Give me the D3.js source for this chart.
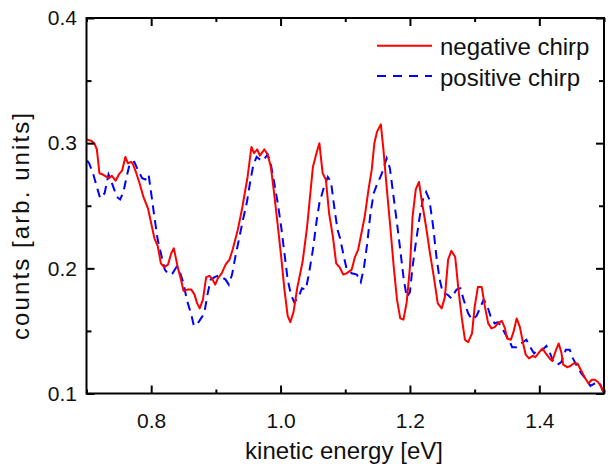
<!DOCTYPE html>
<html>
<head>
<meta charset="utf-8">
<script src="https://cdn.jsdelivr.net/npm/d3@7"></script>
<style>
  html, body { margin: 0; padding: 0; background: #fff; }
  svg { display: block; font-family: "Liberation Sans", Arial, Helvetica, sans-serif; }
</style>
</head>
<body>
<svg id="chart" width="610" height="464"></svg>
<script>
// ---- data ----
const negEnergy = [0.700,0.707,0.712,0.716,0.720,0.725,0.731,0.735,0.739,0.745,0.750,0.755,0.760,0.764,0.769,0.772,0.777,0.782,0.788,0.795,
  0.800,0.805,0.810,0.815,0.820,0.826,0.831,0.835,0.841,0.846,0.850,0.856,0.862,0.867,0.871,0.875,0.880,0.885,0.890,0.895,
  0.899,0.903,0.909,0.915,0.921,0.926,0.934,0.941,0.949,0.955,0.959,0.964,0.968,0.975,0.980,0.985,0.990,0.996,1.001,1.006,
  1.011,1.015,1.020,1.026,1.034,1.041,1.050,1.056,1.060,1.065,1.070,1.075,1.081,1.086,1.091,1.097,1.102,1.110,1.115,1.120,
  1.125,1.130,1.136,1.141,1.145,1.149,1.155,1.159,1.164,1.170,1.175,1.180,1.185,1.190,1.195,1.200,1.204,1.209,1.214,1.218,
  1.225,1.231,1.237,1.243,1.249,1.254,1.259,1.264,1.270,1.275,1.280,1.285,1.290,1.296,1.300,1.305,1.311,1.316,1.321,1.326,
  1.331,1.336,1.342,1.347,1.350,1.356,1.360,1.365,1.370,1.375,1.379,1.384,1.390,1.394,1.400,1.405,1.410,1.416,1.420,1.426,
  1.430,1.434,1.437,1.443,1.448,1.453,1.459,1.464,1.470,1.476,1.481,1.486,1.491,1.496,1.500];
const negCounts = [0.303,0.302,0.300,0.295,0.276,0.275,0.273,0.272,0.274,0.270,0.275,0.278,0.289,0.284,0.285,0.283,0.276,0.268,0.257,0.248,
  0.236,0.224,0.218,0.204,0.201,0.203,0.212,0.216,0.201,0.191,0.182,0.183,0.183,0.179,0.172,0.168,0.175,0.193,0.194,0.191,
  0.187,0.192,0.196,0.203,0.207,0.215,0.231,0.249,0.273,0.297,0.292,0.295,0.290,0.295,0.291,0.281,0.260,0.233,0.209,0.183,
  0.162,0.157,0.165,0.185,0.205,0.233,0.281,0.293,0.300,0.276,0.271,0.244,0.225,0.204,0.201,0.195,0.196,0.199,0.209,0.215,
  0.228,0.241,0.263,0.279,0.300,0.309,0.315,0.295,0.265,0.231,0.201,0.175,0.160,0.159,0.173,0.201,0.241,0.263,0.269,0.255,
  0.233,0.212,0.193,0.172,0.168,0.177,0.207,0.214,0.209,0.183,0.161,0.143,0.141,0.148,0.169,0.185,0.185,0.169,0.156,0.152,
  0.153,0.156,0.158,0.152,0.144,0.143,0.149,0.160,0.153,0.140,0.131,0.128,0.130,0.129,0.133,0.136,0.132,0.128,0.126,0.135,
  0.140,0.133,0.123,0.121,0.122,0.124,0.124,0.119,0.113,0.108,0.111,0.111,0.109,0.105,0.1006];

const posEnergy = [0.701,0.704,0.710,0.715,0.721,0.728,0.734,0.740,0.747,0.752,0.757,0.762,0.767,0.774,0.779,0.786,0.791,0.796,0.800,0.805,
  0.810,0.815,0.821,0.827,0.833,0.839,0.845,0.850,0.855,0.862,0.866,0.872,0.877,0.882,0.887,0.892,0.898,0.903,0.909,0.915,
  0.920,0.925,0.930,0.936,0.942,0.948,0.953,0.958,0.963,0.968,0.973,0.980,0.985,0.990,0.996,1.001,1.006,1.011,1.016,1.021,
  1.027,1.033,1.039,1.044,1.050,1.056,1.060,1.066,1.073,1.078,1.083,1.088,1.092,1.098,1.102,1.110,1.118,1.124,1.129,1.134,
  1.139,1.144,1.149,1.156,1.164,1.169,1.174,1.180,1.185,1.190,1.195,1.200,1.204,1.209,1.215,1.220,1.225,1.230,1.236,1.241,
  1.246,1.251,1.258,1.264,1.272,1.278,1.283,1.290,1.296,1.303,1.309,1.314,1.319,1.325,1.331,1.336,1.342,1.347,1.353,1.358,
  1.365,1.372,1.380,1.386,1.392,1.398,1.405,1.411,1.416,1.422,1.428,1.434,1.441,1.447,1.452,1.459,1.465,1.473,1.479,1.486,
  1.493,1.499];
const posCounts = [0.286,0.284,0.276,0.267,0.256,0.260,0.275,0.267,0.257,0.255,0.261,0.273,0.284,0.285,0.279,0.272,0.271,0.275,0.260,0.241,
  0.223,0.212,0.199,0.195,0.196,0.201,0.196,0.188,0.175,0.163,0.154,0.156,0.160,0.164,0.179,0.191,0.193,0.194,0.193,0.191,
  0.187,0.195,0.209,0.224,0.239,0.253,0.269,0.283,0.289,0.287,0.286,0.291,0.283,0.269,0.251,0.233,0.212,0.191,0.179,0.173,
  0.176,0.184,0.183,0.196,0.215,0.239,0.252,0.263,0.273,0.269,0.249,0.231,0.224,0.209,0.200,0.196,0.195,0.189,0.201,0.220,
  0.244,0.260,0.267,0.275,0.288,0.280,0.260,0.236,0.215,0.193,0.177,0.181,0.201,0.220,0.241,0.255,0.261,0.255,0.233,0.209,
  0.191,0.180,0.179,0.176,0.183,0.184,0.175,0.164,0.159,0.162,0.169,0.175,0.171,0.161,0.156,0.157,0.153,0.148,0.143,0.137,
  0.137,0.140,0.143,0.137,0.132,0.135,0.135,0.138,0.133,0.125,0.123,0.125,0.135,0.135,0.128,0.121,0.116,0.111,0.106,0.108,
  0.109,0.101];

const xMajorTicks = [0.8, 1.0, 1.2, 1.4];
const xMinorTicks = [0.7, 0.9, 1.1, 1.3, 1.5];
const yMajorTicks = [0.1, 0.2, 0.3, 0.4];
const yMinorTicks = [0.15, 0.25, 0.35];
const seriesNames = ["negative chirp", "positive chirp"];
const xTitle = "kinetic energy [eV]";
const yTitle = "counts [arb. units]";

// ---- layout ----
const svg = d3.select("#chart");
const L = 86.5, R = 604, T = 18, B = 393.5;
const x = d3.scaleLinear().domain([0.7, 1.5]).range([L, R]);
const y = d3.scaleLinear().domain([0.1, 0.4]).range([B, T]);

svg.append("defs").append("clipPath").attr("id", "clip")
  .append("rect").attr("x", L).attr("y", T).attr("width", R - L).attr("height", B - T);

const line = d3.line().x(d => x(d[0])).y(d => y(d[1]));
const negData = negEnergy.map((e, i) => [e, negCounts[i]]);
const posData = posEnergy.map((e, i) => [e, posCounts[i]]);

const plot = svg.append("g").attr("clip-path", "url(#clip)");
plot.append("path").datum(posData).attr("d", line)
  .attr("fill", "none").attr("stroke", "#0000ff").attr("stroke-width", 2)
  .attr("stroke-dasharray", "9,6");
plot.append("path").datum(negData).attr("d", line)
  .attr("fill", "none").attr("stroke", "#ff0000").attr("stroke-width", 2)
  .attr("stroke-linejoin", "round");

// ---- axes ----
function styleAxis(g) {
  g.select(".domain").remove();
  g.selectAll(".tick line").attr("stroke", "#000").attr("stroke-width", 2);
  g.selectAll("text").attr("fill", "#111").style("font-size", "21px")
    .style("font-family", '"Liberation Sans", Arial, sans-serif');
}
const fmt = d3.format(".1f");
svg.append("g").attr("transform", `translate(0,${B})`)
  .call(d3.axisBottom(x).tickValues(xMajorTicks).tickFormat(fmt).tickSizeInner(-8).tickSizeOuter(0).tickPadding(19.5))
  .call(styleAxis);
svg.append("g").attr("transform", `translate(0,${B})`)
  .call(d3.axisBottom(x).tickValues(xMinorTicks).tickFormat("").tickSizeInner(-4).tickSizeOuter(0))
  .call(styleAxis);
svg.append("g").attr("transform", `translate(0,${T})`)
  .call(d3.axisTop(x).tickValues(xMajorTicks).tickFormat("").tickSizeInner(-8).tickSizeOuter(0))
  .call(styleAxis);
svg.append("g").attr("transform", `translate(0,${T})`)
  .call(d3.axisTop(x).tickValues(xMinorTicks).tickFormat("").tickSizeInner(-4).tickSizeOuter(0))
  .call(styleAxis);
svg.append("g").attr("transform", `translate(${L},0)`)
  .call(d3.axisLeft(y).tickValues(yMajorTicks).tickFormat(fmt).tickSizeInner(-8).tickSizeOuter(0).tickPadding(9.5))
  .call(styleAxis);
svg.append("g").attr("transform", `translate(${L},0)`)
  .call(d3.axisLeft(y).tickValues(yMinorTicks).tickFormat("").tickSizeInner(-5).tickSizeOuter(0))
  .call(styleAxis);
svg.append("g").attr("transform", `translate(${R},0)`)
  .call(d3.axisRight(y).tickValues(yMajorTicks).tickFormat("").tickSizeInner(-8).tickSizeOuter(0))
  .call(styleAxis);
svg.append("g").attr("transform", `translate(${R},0)`)
  .call(d3.axisRight(y).tickValues(yMinorTicks).tickFormat("").tickSizeInner(-5).tickSizeOuter(0))
  .call(styleAxis);

svg.append("rect").attr("x", L).attr("y", T).attr("width", R - L).attr("height", B - T)
  .attr("fill", "none").attr("stroke", "#000").attr("stroke-width", 2);

// ---- titles ----
svg.append("text").attr("x", 344).attr("y", 459).attr("text-anchor", "middle")
  .attr("textLength", 198).attr("lengthAdjust", "spacing")
  .style("font-size", "24px").attr("fill", "#111").text(xTitle);
svg.append("text").attr("transform", "translate(29,226.5) rotate(-90)").attr("text-anchor", "middle")
  .attr("textLength", 227).attr("lengthAdjust", "spacing")
  .style("font-size", "24px").attr("fill", "#111").text(yTitle);

// ---- legend ----
const legend = svg.append("g");
const legY = [45.7, 76];
const legStyles = [{c: "#ff0000", dash: null}, {c: "#0000ff", dash: "9,7"}];
seriesNames.forEach((name, i) => {
  legend.append("line").attr("x1", 377).attr("x2", 432).attr("y1", legY[i]).attr("y2", legY[i])
    .attr("stroke", legStyles[i].c).attr("stroke-width", 2)
    .attr("stroke-dasharray", legStyles[i].dash);
  legend.append("text").attr("x", 440).attr("y", legY[i] + 9.5)
    .style("font-size", "24px").attr("fill", "#111").text(name);
});
</script>
</body>
</html>
